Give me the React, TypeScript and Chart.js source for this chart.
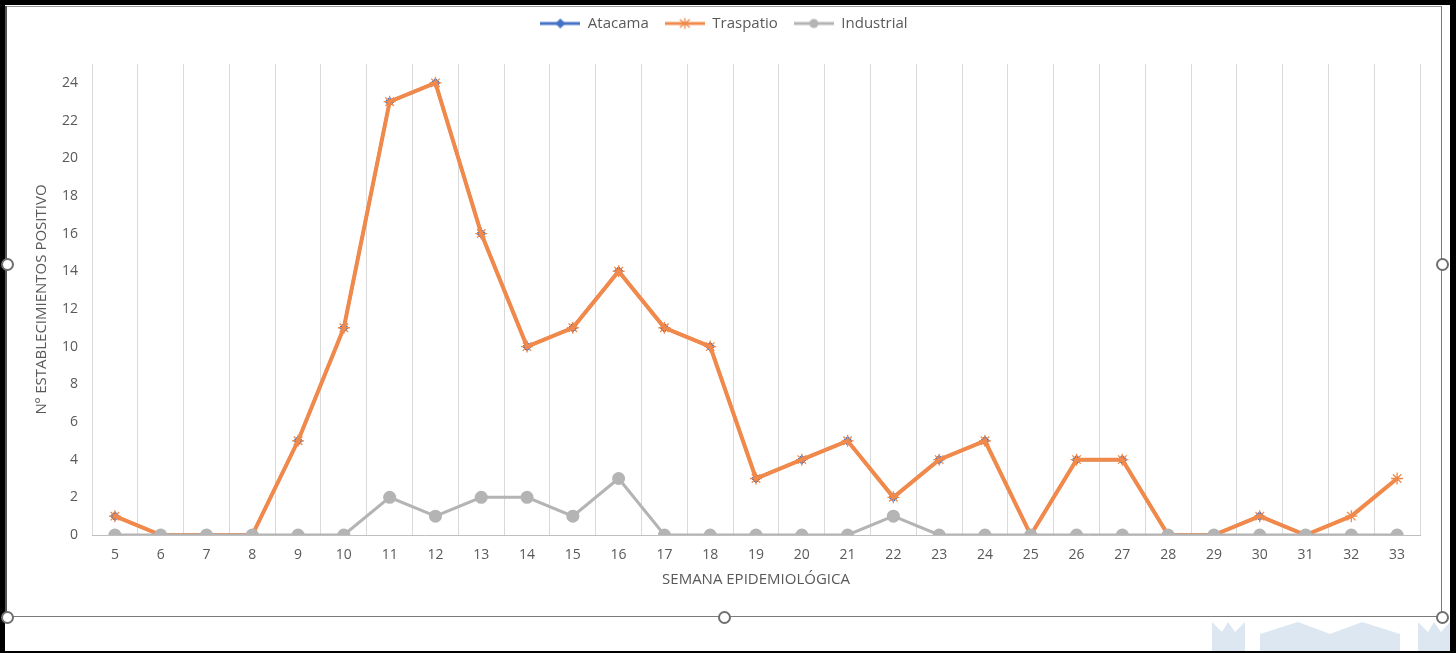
import React, { useEffect, useRef } from "react";
import { Chart, registerables } from "chart.js";

Chart.register(...registerables);

const weeks = ["5","6","7","8","9","10","11","12","13","14","15","16","17","18","19","20","21","22","23","24","25","26","27","28","29","30","31","32","33"];
const atacama = [1,0,0,0,5,11,23,24,16,10,11,14,11,10,3,4,5,2,4,5,0,4,4,0,0,1,0,null,null];
const traspatio = [1,0,0,0,5,11,23,24,16,10,11,14,11,10,3,4,5,2,4,5,0,4,4,0,0,1,0,1,3];
const industrial = [0,0,0,0,0,0,2,1,2,2,1,3,0,0,0,0,0,1,0,0,0,0,0,0,0,0,0,0,0];
const yTickValues = [0,2,4,6,8,10,12,14,16,18,20,22,24];

const seriesNames = ["Atacama", "Traspatio", "Industrial"];
const BLUE = "#4472C4";
const ORANGE = "#F0894A";
const GRAY = "#B4B4B4";
const TEXT = "#595959";
const FONT = "'Open Sans', 'Noto Sans', sans-serif";

function legendIcon(color: string, kind: string): HTMLCanvasElement {
  const c = document.createElement("canvas");
  c.width = 40;
  c.height = 14;
  const ctx = c.getContext("2d")!;
  ctx.strokeStyle = color;
  ctx.lineWidth = 3;
  ctx.beginPath();
  ctx.moveTo(0, 7);
  ctx.lineTo(40, 7);
  ctx.stroke();
  ctx.fillStyle = color;
  if (kind === "diamond") {
    ctx.beginPath();
    ctx.moveTo(20, 2);
    ctx.lineTo(25, 7);
    ctx.lineTo(20, 12);
    ctx.lineTo(15, 7);
    ctx.closePath();
    ctx.fill();
  } else if (kind === "star") {
    ctx.lineWidth = 1.3;
    ctx.beginPath();
    ctx.moveTo(20, 1.5); ctx.lineTo(20, 12.5);
    ctx.moveTo(15, 3); ctx.lineTo(25, 11);
    ctx.moveTo(25, 3); ctx.lineTo(15, 11);
    ctx.stroke();
  } else {
    ctx.beginPath();
    ctx.arc(20, 7, 4.5, 0, Math.PI * 2);
    ctx.fill();
  }
  return c;
}

function Handle({ x, y }: { x: number; y: number }) {
  return (
    <div
      style={{
        position: "absolute",
        left: x - 6.5,
        top: y - 6.5,
        width: 9,
        height: 9,
        borderRadius: "50%",
        border: "2px solid #6f6f6f",
        background: "#fff",
      }}
    />
  );
}

export default function App() {
  const ref = useRef<HTMLCanvasElement | null>(null);

  useEffect(() => {
    if (!ref.current) return;
    const icons = [legendIcon(BLUE, "diamond"), legendIcon(ORANGE, "star"), legendIcon(GRAY, "circle")];
    const chart = new Chart(ref.current, {
      type: "line",
      data: {
        labels: weeks,
        datasets: [
          {
            label: seriesNames[0],
            data: atacama,
            borderColor: BLUE,
            backgroundColor: BLUE,
            borderWidth: 3,
            pointStyle: "rectRot",
            pointRadius: 4.5,
            pointBorderWidth: 1,
            order: 3,
            spanGaps: false,
          },
          {
            label: seriesNames[1],
            data: traspatio,
            borderColor: ORANGE,
            backgroundColor: ORANGE,
            borderWidth: 4,
            pointStyle: "star",
            pointRadius: 6,
            pointBorderWidth: 1.3,
            order: 2,
          },
          {
            label: seriesNames[2],
            data: industrial,
            borderColor: GRAY,
            backgroundColor: GRAY,
            borderWidth: 3,
            pointStyle: "circle",
            pointRadius: 6.5,
            pointBorderWidth: 0,
            order: 1,
          },
        ],
      },
      options: {
        responsive: false,
        animation: false,
        layout: { padding: { left: 20, right: 20, top: 0, bottom: 0 } },
        plugins: {
          tooltip: { enabled: false },
          title: {
            display: true,
            text: " ",
            weight: 500,
            font: { size: 10, lineHeight: 1 },
            padding: { top: 0, bottom: 13 },
          } as any,
          legend: {
            display: true,
            position: "top",
            labels: {
              usePointStyle: true,
              pointStyleWidth: 40,
              padding: 16,
              color: TEXT,
              font: { family: FONT, size: 15 },
              generateLabels: () =>
                seriesNames.map((name, i) => ({
                  text: name,
                  pointStyle: icons[i] as any,
                  fillStyle: "transparent",
                  strokeStyle: "transparent",
                  lineWidth: 0,
                  hidden: false,
                  datasetIndex: i,
                  fontColor: TEXT,
                })),
            },
          },
        },
        scales: {
          x: {
            offset: true,
            grid: { display: true, offset: true, color: "#D9D9D9", lineWidth: 1, drawTicks: false },
            border: { display: true, color: "#BFBFBF", width: 1 },
            ticks: { color: TEXT, font: { family: FONT, size: 14 }, padding: 12, autoSkip: false, maxRotation: 0 },
            title: {
              display: true,
              text: "SEMANA EPIDEMIOLÓGICA",
              color: TEXT,
              font: { family: FONT, size: 15 },
              padding: { top: 4, bottom: 26 },
            },
            afterFit: (s: any) => {
              s.height = 80;
            },
          },
          y: {
            min: 0,
            max: 25,
            grid: { display: false, drawTicks: false },
            border: { display: false },
            ticks: { color: TEXT, font: { family: FONT, size: 14 }, padding: 14 },
            afterBuildTicks: (axis: any) => {
              axis.ticks = yTickValues.map((v) => ({ value: v }));
            },
            title: {
              display: true,
              text: "Nº ESTABLECIMIENTOS POSITIVO",
              color: TEXT,
              font: { family: FONT, size: 15 },
              padding: { top: 5, bottom: 0 },
            },
            afterFit: (s: any) => {
              s.width = 64;
            },
          },
        },
      },
    });
    return () => chart.destroy();
  }, []);

  return (
    <div style={{ position: "fixed", left: 0, top: 0, width: 1456, height: 653, background: "#000", overflow: "hidden" }}>
      <div style={{ position: "absolute", left: 5, top: 5, width: 1445, height: 646, background: "#fff" }} />
      {/* selection frame lines */}
      <div style={{ position: "absolute", left: 5, top: 6, width: 1437, height: 1, background: "#9a9a9a" }} />
      <div style={{ position: "absolute", left: 5, top: 6, width: 2, height: 611, background: "#555" }} />
      <div style={{ position: "absolute", left: 1441, top: 6, width: 1, height: 611, background: "#7a7a7a" }} />
      <div style={{ position: "absolute", left: 5, top: 616, width: 1437, height: 1, background: "#7a7a7a" }} />
      {/* watermark */}
      <svg style={{ position: "absolute", left: 0, top: 0 }} width={1456} height={653}>
        <g fill="#DCE7F2">
          <polygon points="1212,622 1222,632 1228,622 1235,632 1245,622 1245,651 1212,651" />
          <polygon points="1260,634 1298,622 1330,634 1362,622 1400,634 1400,651 1260,651" />
          <polygon points="1418,622 1428,632 1434,622 1441,632 1450,622 1450,651 1418,651" />
        </g>
      </svg>
      <canvas
        ref={ref}
        width={1432}
        height={615}
        style={{ position: "absolute", left: 8, top: 0, width: 1432, height: 615 }}
      />
      <Handle x={7} y={264} />
      <Handle x={1442} y={264} />
      <Handle x={7} y={617} />
      <Handle x={724} y={617} />
      <Handle x={1442} y={617} />
    </div>
  );
}
